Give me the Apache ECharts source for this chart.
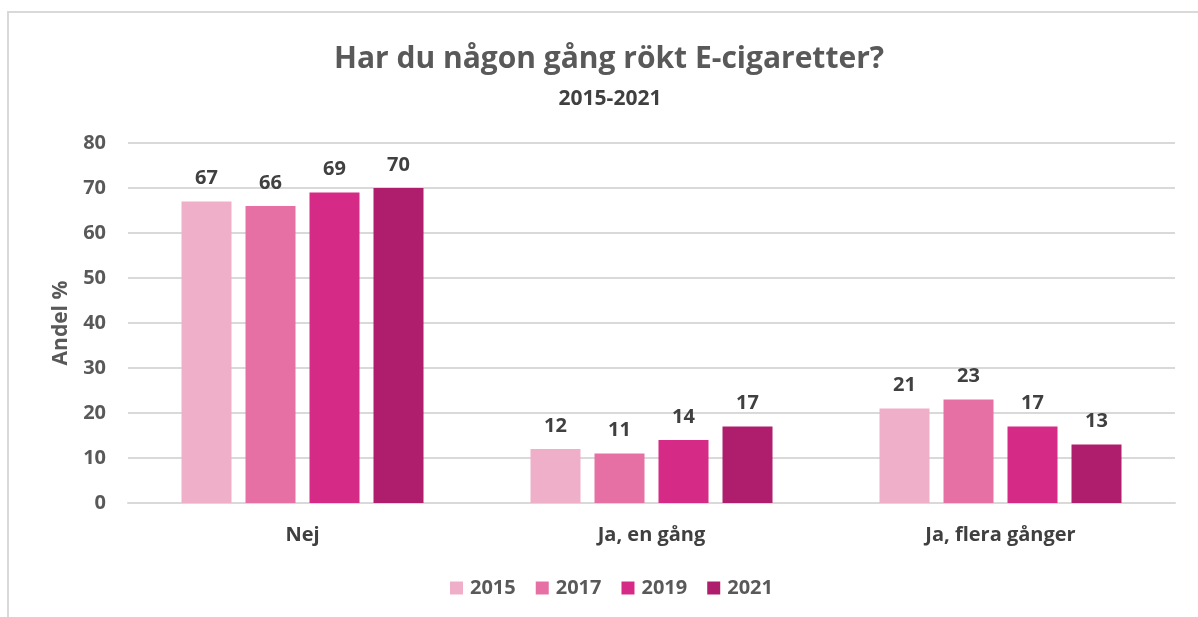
<!DOCTYPE html>
<html>
<head>
<meta charset="utf-8">
<script src="https://cdn.jsdelivr.net/npm/echarts@6/dist/echarts.min.js"></script>
<style>
  html, body { margin: 0; padding: 0; background: #fff; }
  #frame {
    position: absolute; left: 7px; top: 11px; width: 1200px; height: 620px;
    border-top: 2px solid #d9d9d9; border-left: 2px solid #d9d9d9;
  }
  #chart { position: absolute; left: 0; top: 0; width: 1198px; height: 617px; }
</style>
</head>
<body>
<div id="frame"></div>
<div id="chart"></div>
<script>
// kategorier och värden (andel %)
const categories = ["Nej", "Ja, en gång", "Ja, flera gånger"];
const years = ["2015", "2017", "2019", "2021"];
const v2015 = [67, 12, 21];
const v2017 = [66, 11, 23];
const v2019 = [69, 14, 17];
const v2021 = [70, 17, 13];
const yTicks = [0, 10, 20, 30, 40, 50, 60, 70, 80];

const colors = ["#efafc9", "#e670a4", "#d52a86", "#af1e6d"];
const font = "'Open Sans', 'Liberation Sans', sans-serif";

let myChart = echarts.init(document.getElementById("chart"));

const values = [v2015, v2017, v2019, v2021];
const series = years.map((y, i) => ({
  name: y,
  type: "bar",
  data: values[i],
  barWidth: 50,
  barGap: "28%",
  itemStyle: { color: colors[i] },
  label: {
    show: true,
    position: "top",
    distance: 13,
    fontFamily: font,
    fontWeight: "bold",
    fontSize: 20,
    color: "#404040",
  },
}));

myChart.setOption({
  animation: false,
  title: [
    {
      text: "Har du någon gång rökt E-cigaretter?",
      left: 604,
      textAlign: "center",
      top: 39,
      textStyle: { fontFamily: font, fontWeight: "bold", fontSize: 30, color: "#595959" },
    },
    {
      text: "2015-2021",
      left: 605,
      textAlign: "center",
      top: 84,
      textStyle: { fontFamily: font, fontWeight: "bold", fontSize: 21, color: "#404040" },
    },
  ],
  legend: {
    bottom: 14,
    left: 445,
    itemWidth: 13,
    itemHeight: 13,
    itemGap: 20,
    icon: "rect",
    textStyle: { fontFamily: font, fontWeight: "bold", fontSize: 20, color: "#595959", padding: [0, 0, 0, 2] },
    data: years,
  },
  grid: { left: 128, right: 23, top: 143, bottom: 114 },
  xAxis: {
    type: "category",
    data: categories,
    axisTick: { show: false },
    axisLine: { lineStyle: { color: "#d9d9d9", width: 2 } },
    axisLabel: { fontFamily: font, fontWeight: "bold", fontSize: 20, color: "#404040", margin: 22 },
  },
  yAxis: {
    type: "value",
    min: yTicks[0],
    max: yTicks[yTicks.length - 1],
    interval: 10,
    name: "Andel %",
    nameLocation: "middle",
    nameGap: 56,
    nameTextStyle: { fontFamily: font, fontWeight: "bold", fontSize: 21, color: "#595959" },
    axisLine: { show: false },
    axisTick: { show: false },
    axisLabel: { fontFamily: font, fontWeight: "bold", fontSize: 20, color: "#595959", margin: 22 },
    splitLine: { lineStyle: { color: "#d9d9d9", width: 2 } },
  },
  series: series,
});

window.addEventListener("resize", () => {
  myChart.resize();
});
</script>
</body>
</html>
